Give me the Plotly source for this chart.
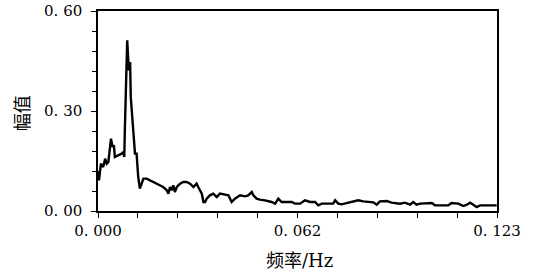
import plotly.graph_objects as go

freq = [0.0000, 0.0003, 0.0009, 0.0016, 0.0022, 0.0027, 0.0032, 0.0037, 0.0040, 0.0045,
        0.0049, 0.0052, 0.0063, 0.0073, 0.0078, 0.0081, 0.0083, 0.0086, 0.0090, 0.0095,
        0.0099, 0.0101, 0.0106, 0.0109, 0.0114, 0.0119, 0.0124, 0.0129, 0.0135, 0.0140,
        0.0150, 0.0160, 0.0170, 0.0181, 0.0191, 0.0201, 0.0212, 0.0217, 0.0222, 0.0227,
        0.0232, 0.0237, 0.0243, 0.0253, 0.0263, 0.0273, 0.0284, 0.0294, 0.0299, 0.0304,
        0.0309, 0.0314, 0.0320, 0.0325, 0.0330, 0.0335, 0.0345, 0.0355, 0.0366, 0.0376,
        0.0391, 0.0402, 0.0412, 0.0422, 0.0438, 0.0453, 0.0463, 0.0474, 0.0479, 0.0489,
        0.0499, 0.0515, 0.0535, 0.0546, 0.0556, 0.0566, 0.0582, 0.0597, 0.0607, 0.0623,
        0.0638, 0.0654, 0.0669, 0.0679, 0.0690, 0.0705, 0.0725, 0.0731, 0.0741, 0.0751,
        0.0767, 0.0787, 0.0802, 0.0818, 0.0838, 0.0849, 0.0859, 0.0869, 0.0890, 0.0905,
        0.0931, 0.0946, 0.0962, 0.0972, 0.0982, 0.0993, 0.1029, 0.1039, 0.1080, 0.1090,
        0.1111, 0.1126, 0.1137, 0.1147, 0.1157, 0.1167, 0.1178, 0.1208, 0.1229]

amplitude = [0.120, 0.092, 0.142, 0.132, 0.157, 0.142, 0.147, 0.197, 0.217, 0.192,
             0.197, 0.162, 0.167, 0.172, 0.177, 0.162, 0.252, 0.417, 0.512, 0.422,
             0.447, 0.342, 0.282, 0.252, 0.172, 0.172, 0.102, 0.067, 0.082, 0.097,
             0.097, 0.092, 0.087, 0.082, 0.077, 0.072, 0.062, 0.052, 0.072, 0.062,
             0.077, 0.057, 0.072, 0.082, 0.087, 0.087, 0.082, 0.072, 0.077, 0.082,
             0.072, 0.062, 0.052, 0.027, 0.027, 0.037, 0.047, 0.052, 0.042, 0.052,
             0.050, 0.047, 0.027, 0.037, 0.047, 0.044, 0.047, 0.057, 0.047, 0.037,
             0.034, 0.032, 0.027, 0.022, 0.037, 0.027, 0.027, 0.027, 0.022, 0.022,
             0.032, 0.027, 0.027, 0.017, 0.022, 0.022, 0.022, 0.032, 0.022, 0.020,
             0.024, 0.027, 0.032, 0.029, 0.027, 0.026, 0.019, 0.029, 0.030, 0.025,
             0.022, 0.025, 0.019, 0.027, 0.019, 0.022, 0.024, 0.017, 0.017, 0.024,
             0.022, 0.015, 0.019, 0.025, 0.019, 0.012, 0.017, 0.017, 0.017]

x_tickvals = [0.0, 0.0615, 0.123]
x_ticktext = ["0. 000", "0. 062", "0. 123"]
y_tickvals = [0.0, 0.3, 0.6]
y_ticktext = ["0. 00", "0. 30", "0. 60"]
x_title = "频率/Hz"
y_title = "幅值"

FONT = "DejaVu Serif, Noto Sans CJK SC"

fig = go.Figure()
fig.add_trace(go.Scatter(x=freq, y=amplitude, mode="lines",
                         line=dict(color="black", width=2.4), showlegend=False))

axis_common = dict(showline=True, linecolor="black", linewidth=1.5, mirror=True,
                   showgrid=False, zeroline=False, ticks="outside", ticklen=5,
                   tickwidth=1.2, tickcolor="black",
                   tickfont=dict(family=FONT, size=15, color="black"))

fig.update_xaxes(range=[0, 0.123], tickmode="array", tickvals=x_tickvals, ticktext=x_ticktext,
                 minor=dict(tickmode="linear", tick0=0, dtick=0.0123, ticks="outside",
                            ticklen=5, tickwidth=1.2, tickcolor="black"),
                 **axis_common)
fig.update_yaxes(range=[0, 0.6], tickmode="array", tickvals=y_tickvals, ticktext=y_ticktext,
                 minor=dict(tickmode="linear", tick0=0, dtick=0.06, ticks="outside",
                            ticklen=4, tickwidth=1.2, tickcolor="black"),
                 ticklabelstandoff=6,
                 **axis_common)

fig.add_annotation(text=x_title, xref="paper", yref="paper", x=0.505, y=-0.246,
                   showarrow=False, xanchor="center", yanchor="middle",
                   font=dict(family=FONT, size=18, color="black"))
fig.add_annotation(text=y_title, xref="paper", yref="paper", x=-0.19, y=0.49,
                   showarrow=False, xanchor="center", yanchor="middle", textangle=-90,
                   font=dict(family=FONT, size=18, color="black"))

fig.update_layout(width=536, height=273, plot_bgcolor="white", paper_bgcolor="white",
                  margin=dict(l=98, r=38.5, t=10.5, b=62.3, autoexpand=False))

fig.write_html("out.html", config={"displayModeBar": False},
               post_script="document.body.style.margin='0';document.body.style.overflow='hidden';")
